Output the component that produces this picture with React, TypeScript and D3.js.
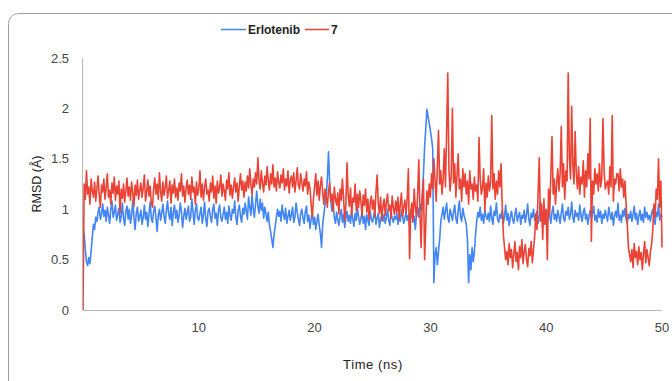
import React from 'react';
import * as d3 from 'd3';

// sampling step of the trajectory (ns)
const timeStep = 0.1;

const seriesNames = ['Erlotenib', '7'];
const seriesColors = ['#4285f4', '#ea4335'];

const xTicks = [10, 20, 30, 40, 50];
const yTicks = [0, 0.5, 1, 1.5, 2, 2.5];

// RMSD (Å), one value per 0.1 ns, rows of 1 ns
const erlotenib: number[] = [
  0.82, 0.75, 0.60, 0.48, 0.44, 0.52, 0.46, 0.58, 0.72, 0.85,
  0.80, 0.92, 0.88, 0.97, 1.02, 0.90, 0.95, 1.05, 0.93, 0.99,
  0.88, 1.02, 0.94, 0.86, 1.00, 1.08, 0.92, 0.97, 1.04, 0.89,
  0.95, 1.01, 0.87, 0.93, 1.06, 0.91, 0.84, 0.98, 1.03, 0.90,
  1.00, 0.86, 0.94, 1.09, 0.92, 0.80, 0.96, 1.02, 0.88, 0.93,
  0.99, 0.85, 0.92, 1.04, 0.90, 0.97, 0.83, 0.95, 1.07, 0.91,
  0.87, 0.98, 1.03, 0.92, 0.78, 0.94, 1.00, 0.89, 0.96, 1.05,
  0.93, 0.86, 0.99, 1.08, 0.95, 0.90, 1.02, 0.84, 0.97, 1.04,
  0.91, 0.99, 0.87, 0.94, 1.06, 0.98, 0.82, 0.93, 1.01, 0.90,
  0.96, 1.03, 0.88, 0.92, 1.10, 0.97, 0.85, 0.99, 1.05, 0.91,
  0.89, 0.96, 1.02, 0.86, 0.94, 1.07, 0.90, 0.83, 0.98, 1.01,
  0.93, 0.87, 1.00, 1.05, 0.91, 0.96, 0.84, 0.99, 1.04, 0.92,
  0.88, 0.95, 1.02, 0.90, 0.97, 0.86, 1.03, 0.94, 0.89, 1.00,
  0.96, 1.08, 0.92, 0.85, 0.99, 1.04, 0.93, 0.87, 1.01, 0.95,
  1.06, 0.98, 0.90, 1.12, 1.02, 0.94, 1.15, 1.00, 0.92, 1.05,
  1.18, 1.03, 0.96, 1.10, 0.99, 1.06, 0.91, 1.02, 0.95, 0.88,
  0.97, 0.84, 0.78, 0.70, 0.62, 0.75, 0.83, 0.92, 1.00, 0.93,
  0.98, 0.88, 1.04, 0.95, 0.90, 1.01, 0.86, 0.93, 0.99, 0.89,
  0.95, 1.02, 0.87, 0.92, 1.06, 0.97, 0.90, 0.84, 0.96, 1.00,
  0.91, 0.86, 0.98, 1.03, 0.88, 0.94, 0.81, 0.90, 0.97, 0.85,
  0.92, 0.80, 0.88, 0.95, 0.84, 0.76, 0.62, 0.85, 0.95, 1.05,
  1.12, 1.30, 1.57, 1.25, 1.08, 0.98, 1.05, 0.92, 0.86, 0.97,
  0.90, 0.84, 0.93, 1.00, 0.87, 0.95, 0.82, 0.91, 0.98, 0.88,
  0.94, 0.86, 0.99, 0.90, 0.83, 0.96, 0.89, 1.02, 0.92, 0.85,
  0.91, 0.97, 0.86, 0.93, 0.80, 0.95, 0.89, 0.84, 0.98, 0.90,
  0.87, 0.93, 0.99, 0.85, 0.91, 0.96, 0.82, 0.90, 0.94, 0.88,
  0.95, 0.86, 0.92, 1.00, 0.89, 0.84, 0.97, 0.91, 0.87, 0.93,
  0.90, 0.96, 0.85, 0.92, 0.88, 0.99, 0.93, 0.86, 0.91, 0.97,
  0.89, 0.94, 0.84, 0.92, 0.98, 0.87, 0.93, 0.80, 0.95, 1.02,
  0.92, 1.05, 0.98, 1.15, 1.35, 1.62, 1.80, 1.99, 1.92, 1.85,
  1.78, 1.70, 1.60, 0.27, 0.55, 0.62, 0.45, 0.58, 0.70, 0.88,
  0.95, 1.02, 0.90, 0.98, 1.06, 0.92, 0.87, 1.00, 0.95, 0.89,
  0.97, 1.04, 0.91, 0.86, 0.99, 1.08, 0.93, 0.88, 1.01, 0.94,
  0.90, 0.85, 0.70, 0.27, 0.55, 0.40, 0.62, 0.48, 0.58, 0.75,
  0.88, 0.97, 0.92, 1.02, 0.89, 0.95, 0.86, 0.99, 0.93, 0.90,
  0.96, 0.88, 1.03, 0.91, 0.85, 0.98, 0.94, 1.06, 0.90, 0.87,
  0.95, 0.91, 0.99, 0.86, 0.93, 1.04, 0.89, 0.96, 0.84, 0.92,
  0.98, 0.90, 0.86, 0.95, 1.01, 0.88, 0.93, 0.97, 0.85, 0.94,
  0.91, 0.99, 0.87, 0.95, 1.05, 0.90, 0.84, 0.96, 0.92, 1.00,
  0.89, 0.94, 0.98, 0.86, 0.93, 1.08, 0.91, 0.97, 0.85, 0.95,
  0.92, 0.88, 1.00, 0.94, 0.86, 0.97, 1.03, 0.90, 0.95, 0.88,
  0.99, 0.93, 0.86, 0.96, 1.05, 0.91, 0.88, 0.98, 0.94, 1.02,
  0.90, 0.95, 1.07, 0.92, 0.87, 0.99, 0.93, 0.96, 0.89, 1.04,
  0.94, 0.88, 0.97, 1.01, 0.90, 0.95, 0.85, 0.93, 0.99, 0.91,
  0.96, 1.03, 0.89, 0.94, 0.87, 1.00, 0.92, 0.98, 0.86, 0.95,
  0.91, 0.99, 0.93, 0.88, 1.02, 0.95, 0.90, 0.97, 0.84, 0.93,
  0.98, 0.92, 1.06, 0.89, 0.94, 0.87, 0.99, 0.93, 1.01, 0.90,
  0.86, 0.95, 0.91, 0.98, 0.88, 0.94, 1.03, 0.90, 0.96, 0.85,
  0.93, 0.99, 0.89, 0.95, 0.87, 1.02, 0.92, 0.97, 0.90, 0.94,
  0.88, 0.96, 1.00, 0.91, 0.85, 0.97, 0.93, 1.05, 0.89, 0.95,
  0.92,
];

const compound7: number[] = [
  0.00, 1.25, 1.10, 1.38, 1.15, 1.22, 1.05, 1.30, 1.18, 1.12,
  1.27, 1.08, 1.20, 1.33, 1.14, 1.02, 1.24, 1.17, 1.30, 1.10,
  1.21, 1.35, 1.12, 1.19, 1.05, 1.26, 1.16, 1.32, 1.09, 1.23,
  1.15, 1.28, 0.96, 1.20, 1.11, 1.25, 1.07, 1.18, 1.31, 1.13,
  1.22, 1.09, 1.27, 1.16, 1.03, 1.24, 1.14, 1.29, 1.10, 1.19,
  1.26, 1.12, 1.21, 1.34, 1.08, 1.17, 1.29, 1.13, 1.23, 1.06,
  1.02, 1.20, 1.31, 1.15, 1.25, 1.10, 1.36, 1.18, 1.08, 1.27,
  1.14, 1.22, 1.33, 1.11, 1.19, 1.28, 1.06, 1.24, 1.16, 1.30,
  1.12, 1.21, 1.09, 1.26, 1.18, 1.35, 1.13, 1.23, 1.07, 1.20,
  1.29, 1.15, 1.24, 1.10, 1.32, 1.17, 1.22, 1.05, 1.27, 1.14,
  1.20, 1.38, 1.12, 1.25, 1.09, 1.22, 1.30, 1.15, 1.19, 1.08,
  1.26, 1.17, 1.33, 1.11, 1.23, 1.06, 1.28, 1.16, 1.21, 1.34,
  1.13, 1.25, 1.18, 1.09, 1.29, 1.20, 1.36, 1.14, 1.24, 1.11,
  1.22, 1.31, 1.17, 1.26, 1.08, 1.23, 1.35, 1.19, 1.28, 1.12,
  1.27, 1.18, 1.33, 1.21, 1.40, 1.24, 1.15, 1.30, 1.22, 1.36,
  1.25, 1.51, 1.29, 1.20, 1.38, 1.26, 1.17, 1.33, 1.24, 1.42,
  1.28, 1.19, 1.35, 1.25, 1.44, 1.22, 1.31, 1.18, 1.37, 1.27,
  1.21, 1.34, 1.26, 1.40, 1.19, 1.30, 1.23, 1.38, 1.16, 1.29,
  1.33, 1.22, 1.36, 1.17, 1.28, 1.41, 1.24, 1.20, 1.35, 1.26,
  1.18, 1.30, 1.23, 1.37, 1.15, 1.27, 1.21, 1.05, 0.92, 1.10,
  1.22, 1.35, 1.14, 1.28, 1.09, 1.24, 1.32, 1.16, 1.05, 1.20,
  1.13, 1.02, 1.18, 1.26, 1.08, 1.15, 0.98, 1.22, 1.10, 1.04,
  1.16, 0.95, 1.20, 1.09, 1.30, 1.12, 0.88, 1.05, 1.46, 1.14,
  1.03, 1.21, 0.94, 1.11, 1.07, 1.25, 0.98, 1.15, 1.02, 1.18,
  1.08, 0.93, 1.14, 1.04, 1.20, 0.97, 1.10, 0.90, 1.06, 1.13,
  1.00, 1.09, 0.92, 1.17, 1.34, 1.05, 0.96, 1.12, 0.89, 1.03,
  1.10, 0.94, 1.07, 1.15, 0.99, 1.04, 0.91, 1.13, 1.01, 0.95,
  1.08, 0.97, 1.12, 0.90, 1.05, 1.16, 0.93, 1.02, 1.09, 0.96,
  1.11, 1.40, 0.51, 0.98, 1.06, 0.88, 1.20, 1.02, 0.92, 1.15,
  1.49, 0.95, 0.62, 1.10, 1.30, 0.50, 0.85, 1.18, 1.05, 1.25,
  1.12, 1.35, 1.20, 1.50, 1.28, 1.08, 1.42, 1.78, 1.25, 1.38,
  1.15, 1.30, 1.60, 1.22, 1.75, 2.35, 1.40, 1.18, 1.33, 2.00,
  1.26, 1.45, 1.12, 1.35, 1.55, 1.20, 1.30, 1.08, 1.40, 1.22,
  1.35, 1.15, 1.28, 1.05, 1.38, 1.20, 1.25, 1.10, 1.32, 1.18,
  1.24, 1.08, 1.71, 1.30, 1.15, 1.22, 1.40, 0.98, 1.26, 1.12,
  1.33, 1.18, 1.27, 1.93, 1.20, 1.35, 1.10, 1.28, 1.15, 1.38,
  1.22, 1.45, 1.05, 0.75, 0.62, 0.50, 0.58, 0.45, 0.66, 0.52,
  0.60, 0.42, 0.55, 0.68, 0.48, 0.57, 0.40, 0.63, 0.52, 0.70,
  0.46, 0.58, 0.65, 0.50, 0.43, 0.61, 0.54, 0.68, 0.47, 0.59,
  0.72, 0.95, 0.80, 1.15, 1.51, 0.88, 1.05, 0.70, 1.10, 0.85,
  1.00, 0.50, 1.20, 0.95, 1.35, 1.72, 1.15, 1.30, 1.05, 1.25,
  1.40, 1.18, 1.35, 1.82, 1.22, 1.45, 1.10, 1.38, 1.28, 2.35,
  1.50, 1.30, 2.02, 1.45, 1.25, 1.77, 1.35, 1.20, 1.42, 1.15,
  1.32, 1.25, 1.48, 1.12, 1.38, 1.22, 1.55, 1.30, 1.90, 0.68,
  1.28, 1.15, 1.40, 1.25, 1.35, 1.18, 1.45, 1.22, 1.30, 1.90,
  1.38, 1.20, 1.25, 1.28, 1.15, 1.42, 1.22, 1.93, 1.08, 1.30,
  1.25, 1.35, 1.35, 1.18, 1.40, 1.22, 1.30, 1.12, 1.28, 1.05,
  0.85, 0.62, 0.55, 0.48, 0.60, 0.42, 0.66, 0.52, 0.58, 0.45,
  0.63, 0.50, 0.57, 0.40, 0.55, 0.68, 0.47, 0.60, 0.52, 0.44,
  0.58, 0.65, 0.78, 1.05, 0.92, 1.20, 1.10, 1.50, 1.02, 1.28,
  0.62,
];

const series = [erlotenib, compound7];

const width = 672;
const height = 381;
const plot = { left: 83, right: 662, top: 58, bottom: 310 };
const font = 'Arial, "Liberation Sans", sans-serif';

const App: React.FC = () => {
  const x = d3.scaleLinear().domain([0, 50]).range([plot.left, plot.right]);
  const y = d3.scaleLinear().domain([0, 2.5]).range([plot.bottom, plot.top]);

  const line = d3
    .line<number>()
    .x((_, i) => x(i * timeStep))
    .y((d) => y(d));

  return (
    <div style={{ position: 'absolute', left: 0, top: 0 }}>
      <svg width={width} height={height} style={{ display: 'block', background: '#fff' }}>
        {/* chart frame */}
        <rect x={8.5} y={13.5} width={700} height={400} rx={10} ry={10} fill="#fff" stroke="#9e9e9e" />

        {/* legend */}
        <g fontFamily={font} fontSize={12} fontWeight="bold" fill="#222">
          <line x1={221} x2={246} y1={29.5} y2={29.5} stroke={seriesColors[0]} strokeWidth={1.5} />
          <text x={248} y={34}>{seriesNames[0]}</text>
          <line x1={305} x2={329} y1={29.5} y2={29.5} stroke={seriesColors[1]} strokeWidth={1.5} />
          <text x={331} y={34}>{seriesNames[1]}</text>
        </g>

        {/* y tick labels */}
        <g fontFamily={font} fontSize={13} fill="#444" textAnchor="end">
          {yTicks.map((t) => (
            <text key={t} x={69} y={y(t) + 4.5}>{t}</text>
          ))}
        </g>

        {/* x tick labels */}
        <g fontFamily={font} fontSize={13} fill="#444" textAnchor="middle">
          {xTicks.map((t) => (
            <text key={t} x={x(t)} y={332}>{t}</text>
          ))}
        </g>

        {/* axis titles */}
        <text x={373} y={369} fontFamily={font} fontSize={13} fill="#222" textAnchor="middle" letterSpacing={0.6}>
          Time (ns)
        </text>
        <text
          transform={`translate(41, 184) rotate(-90)`}
          fontFamily={font}
          fontSize={12.5}
          fill="#222"
          textAnchor="middle"
        >
          RMSD (Å)
        </text>

        {/* series */}
        {series.map((s, k) => (
          <path
            key={seriesNames[k]}
            d={line(s) ?? ''}
            fill="none"
            stroke={seriesColors[k]}
            strokeWidth={1.6}
            strokeLinejoin="round"
          />
        ))}

        {/* axis lines */}
        <line x1={plot.left - 0.5} x2={plot.left - 0.5} y1={plot.top} y2={plot.bottom} stroke="#b7b7b7" />
        <line x1={plot.left} x2={plot.right} y1={plot.bottom + 0.5} y2={plot.bottom + 0.5} stroke="#b7b7b7" />
      </svg>
    </div>
  );
};

export default App;
